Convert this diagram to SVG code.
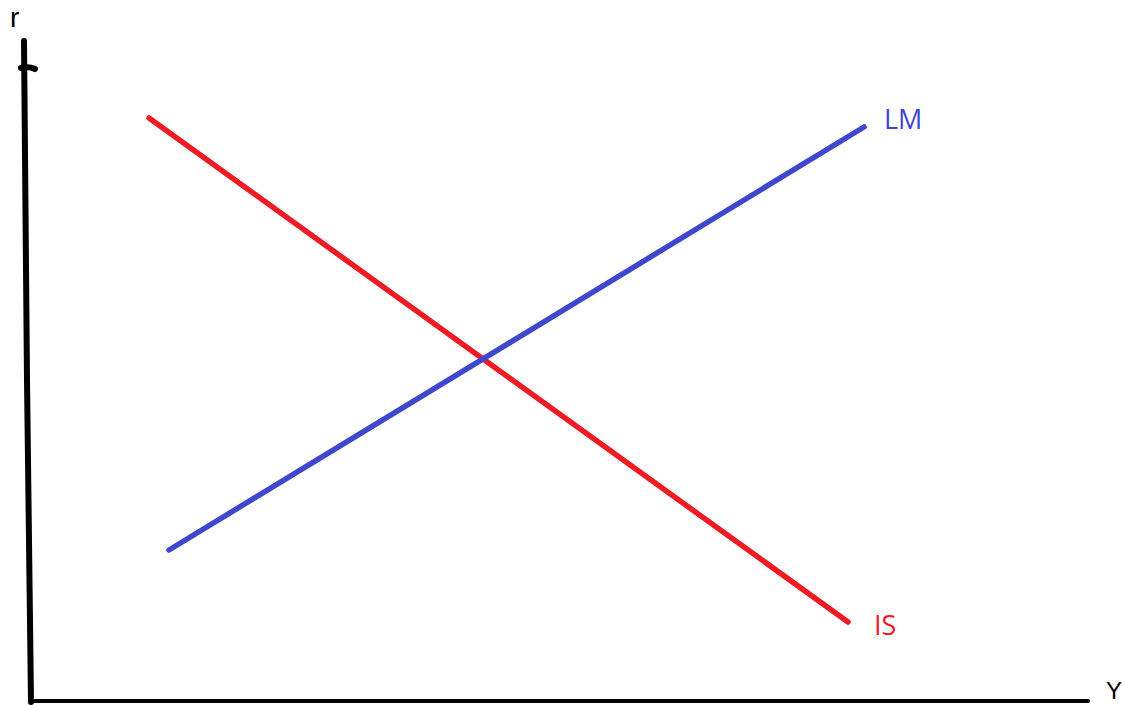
<svg xmlns="http://www.w3.org/2000/svg" width="1125" height="705" viewBox="0 0 1125 705">
<style>
.axis{stroke:#000;fill:none;stroke-linecap:round}
.lbl{font-family:"Open Sans","Liberation Sans",sans-serif;font-size:27px}
.ax{font-family:"Liberation Sans",Arial,sans-serif}
</style>
<rect width="1125" height="705" fill="#fff"/>
<g id="axes">
<path class="axis" d="M24,41 L27,380 L31,702" stroke-width="6"/>
<path class="axis" d="M21,68 Q29,66 35,69" stroke-width="6"/>
<path class="axis" d="M30,701 L1088,701" stroke-width="4"/>
</g>
<g id="connectors">
<line id="IS" x1="149" y1="118" x2="848" y2="622" stroke="#ED1C24" stroke-width="5.5" stroke-linecap="round"/>
<line id="LM" x1="169" y1="550" x2="864" y2="127" stroke="#3F48CC" stroke-width="5.5" stroke-linecap="round"/>
</g>
<g id="labels">
<text class="ax" x="10" y="27" fill="#000" font-size="28">r</text>
<text class="ax" x="1106" y="699" fill="#000" font-size="24">Y</text>
<text class="lbl" x="884" y="129" fill="#3F48CC">LM</text>
<text class="lbl" x="874" y="635" fill="#ED1C24">IS</text>
</g>
</svg>
